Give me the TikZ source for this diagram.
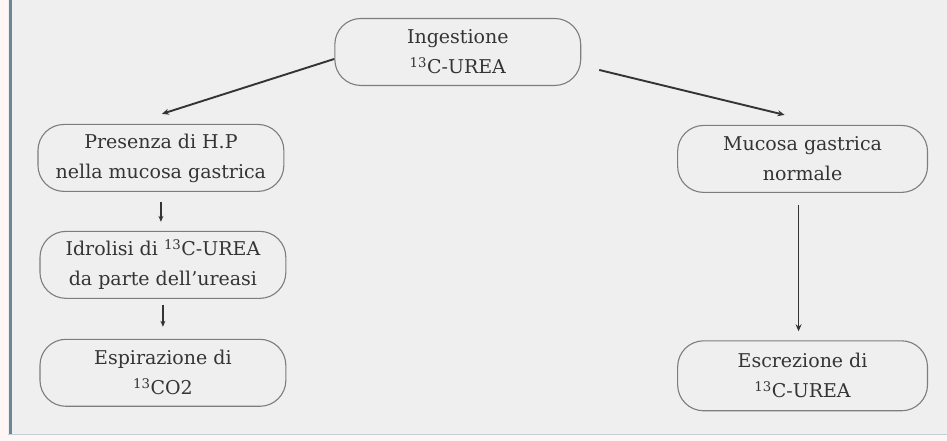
\documentclass[tikz,border=0pt]{standalone}
\usepackage{fontspec}
\setmainfont{DejaVu Serif}
\usepackage{tikz}
\usetikzlibrary{arrows.meta,positioning}
\definecolor{paper}{RGB}{239,239,239}
\definecolor{ink}{RGB}{52,52,52}
\definecolor{frame}{RGB}{125,125,125}
\definecolor{edge}{RGB}{105,135,155}

\begin{document}
\begin{tikzpicture}[x=1pt,y=-1pt,
    stadio/.style={draw=frame,line width=1.1pt,rounded corners=26pt,
      minimum width=246pt,minimum height=67pt,inner sep=2pt,
      align=center,text=ink,font=\fontsize{19}{30}\selectfont},
    freccia/.style={draw=ink,line width=1.9pt,
      -{Stealth[length=7pt,width=6pt]}},
    frecciabreve/.style={draw=ink,line width=1.3pt,
      -{Stealth[length=6pt,width=5pt]}}]
  % fondo e cornice
  \fill[white!96!red] (0,0) rectangle (947,441);
  \fill[paper] (8,0) rectangle (947,434);
  \fill[edge] (9,0) rectangle (12.5,434);
  \draw[edge!40,line width=1pt] (8,434.5) -- (947,434.5);
  \useasboundingbox (0,0) rectangle (947,441);

  % nodi
  \node[stadio] (ing)  at (458,52)  {Ingestione\\\textsuperscript{13}C-UREA};
  \node[stadio] (pres) at (161,158) {Presenza di H.P\\nella mucosa gastrica};
  \node[stadio] (idro) at (163,265) {Idrolisi di \textsuperscript{13}C-UREA\\da parte dell'ureasi};
  \node[stadio] (espi) at (163,373) {Espirazione di\\\textsuperscript{13}CO2};
  \node[stadio,minimum width=250pt] (muco) at (803,159) {Mucosa gastrica\\normale};
  \node[stadio,minimum width=250pt,minimum height=70pt] (escr) at (803,376) {Escrezione di\\\textsuperscript{13}C-UREA};

  % frecce
  \draw[freccia] ([yshift=-7pt]ing.west) -- ([xshift=1pt,yshift=10pt]pres.north);
  \draw[freccia] ([xshift=18pt,yshift=-18pt]ing.east) -- ([xshift=-18pt,yshift=10pt]muco.north);
  \draw[frecciabreve,shorten <=10pt,shorten >=9pt] (pres.south) -- (pres.south|-idro.north);
  \draw[frecciabreve,shorten <=6pt,shorten >=12pt] (idro.south) -- (idro.south|-espi.north);
  \draw[freccia,line width=1.5pt,shorten <=12pt,shorten >=9pt] ([xshift=-4pt]muco.south) -- ([xshift=-4pt]escr.north);
\end{tikzpicture}
\end{document}
